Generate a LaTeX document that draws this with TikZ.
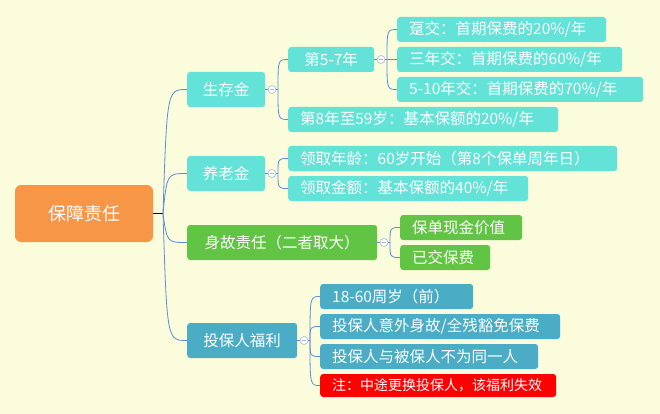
\documentclass[tikz,border=0pt]{standalone}
\usepackage{fontspec}
\setmainfont{Noto Sans CJK SC}
\definecolor{bgcol}{HTML}{FAFCDC}
\definecolor{rootcol}{HTML}{F79646}
\definecolor{cyancol}{HTML}{63E2D8}
\definecolor{greencol}{HTML}{62C444}
\definecolor{bluecol}{HTML}{4BACC6}
\definecolor{linecol}{HTML}{5B8DD9}
\definecolor{foldcol}{HTML}{A9B7E6}

\begin{document}
\begin{tikzpicture}[x=1pt,y=-1pt, link/.style={draw=linecol,line width=0.8pt}]
		\tikzstyle{box}=[rounded corners=3pt,inner sep=0pt,anchor=west,text=white,font=\fontsize{15.5}{18}\selectfont]
		\tikzstyle{topic}=[box,minimum height=35pt,align=center]
		\tikzstyle{leaf}=[box,fill=cyancol,minimum height=25pt,inner xsep=12pt,align=left]
		\tikzstyle{fold}=[circle,draw=foldcol,fill=white,minimum size=8pt,inner sep=0pt,line width=0.6pt,
			path picture={\draw[foldcol,line width=0.6pt] ([xshift=-2.3pt]path picture bounding box.center) -- ([xshift=2.3pt]path picture bounding box.center);}]
		
		% Background
		\fill[bgcol] (0,0) rectangle (660,414);
		\useasboundingbox (0,0) rectangle (660,414);
		
		% Draw the root
		\node[rounded corners=6pt,fill=rootcol,text=white,minimum width=138pt,minimum height=57pt,
			font=\fontsize{18}{20}\selectfont] (R) at (84,213.5) {保障责任};
		
		% Draw the main topics
		\node[topic,fill=cyancol,text width=78pt] (S) at (187,89.5) {生存金};
		\node[topic,fill=cyancol,text width=78pt] (Y) at (187,173.5) {养老金};
		\node[topic,fill=greencol,text width=190pt] (G) at (187,242.5) {身故责任（二者取大）};
		\node[topic,fill=bluecol,text width=110pt] (T) at (187,340.5) {投保人福利};
		
		% Draw the survival leaves
		\node[leaf,text width=62pt,align=center] (S-1) at (288,59.5) {第5-7年};
		\node[leaf,text width=246pt] (S-2) at (288,119.5) {第8年至59岁：基本保额的20\%/年};
		\foreach \name / \y / \w / \txt in {1/29.5/185/{趸交：首期保费的20\%/年},
			2/59.5/201/{三年交：首期保费的60\%/年},3/89.5/222/{5-10年交：首期保费的70\%/年}}
		\node[leaf,text width=\w pt] (D-\name) at (397,\y) {\txt};
		
		% Draw the pension leaves
		\node[leaf,text width=305pt] (Y-1) at (288,158.5) {领取年龄：60岁开始（第8个保单周年日）};
		\node[leaf,text width=216pt] (Y-2) at (288,188.5) {领取金额：基本保额的40\%/年};
		
		% Draw the death leaves
		\node[leaf,fill=greencol,text width=98pt] (G-1) at (400,227.5) {保单现金价值};
		\node[leaf,fill=greencol,text width=66pt] (G-2) at (400,257.5) {已交保费};
		
		% Draw the holder leaves
		\foreach \name / \y / \w / \txt in {1/296.5/129/{18-60周岁（前）},
			2/326.5/216/{投保人意外身故/全残豁免保费},3/356.5/194/{投保人与被保人不为同一人}}
		\node[leaf,fill=bluecol,text width=\w pt] (T-\name) at (320,\y) {\txt};
		\node[leaf,fill=red,text width=212pt,minimum height=23pt,font=\fontsize{14}{16}\selectfont] (T-4) at (320,385.5) {注：中途更换投保人，该福利失效};
		
		% Fold buttons and joints
		\foreach \name / \x / \y / \jx in {S/272/89.5/278,D/381/59.5/387,Y/272/173.5/278,G/384/242.5/390,T/304/340.5/310}
		{\node[fold] (F-\name) at (\x,\y) {};
		\coordinate (J-\name) at (\jx,\y);}
		\coordinate (J-0) at (163,213.5);
		
		% Connect root
		\draw[line width=1pt] (R.east) -- (J-0);
		\foreach \dest in {S,Y,G,T}
		\draw[link] (J-0) .. controls ([xshift=4pt]J-0 |- \dest.west) .. (\dest.west);
		
		% Connect topics to fold buttons
		\foreach \source / \name in {S/S,S-1/D,Y/Y,G/G,T/T}
		{\draw[link] (\source.east) -- (F-\name.west);
		\draw[link] (F-\name.east) -- (J-\name);}
		
		% Connect leaves
		\foreach \name / \dest in {S/S-1,S/S-2,D/D-1,D/D-2,D/D-3,Y/Y-1,Y/Y-2,G/G-1,G/G-2,T/T-1,T/T-2,T/T-3,T/T-4}
		\draw[link] (J-\name) .. controls (J-\name |- \dest.west) .. (\dest.west);
		
	\end{tikzpicture}
\end{document}
